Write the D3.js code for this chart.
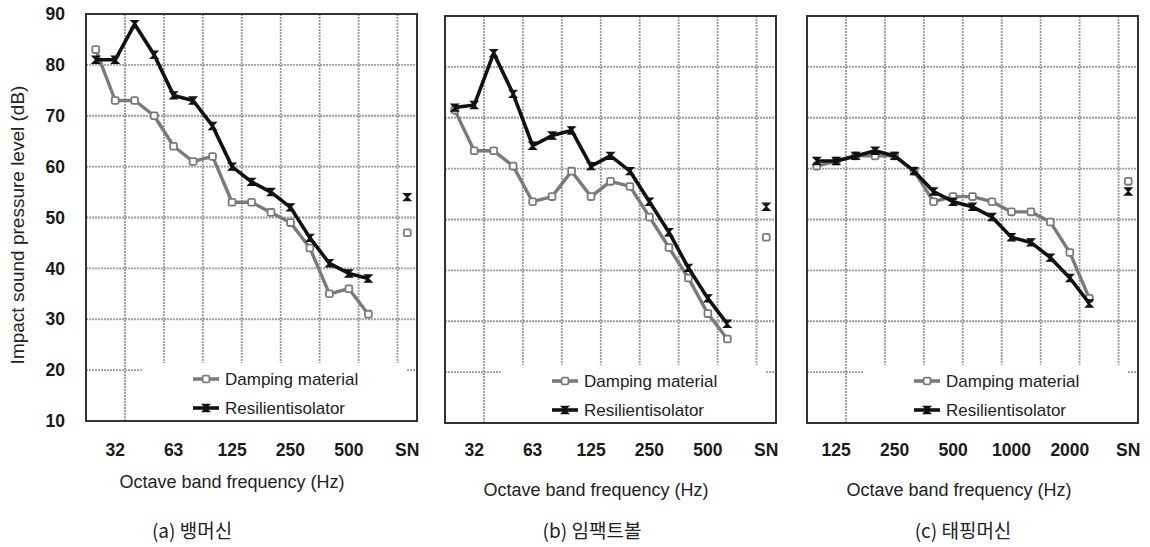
<!DOCTYPE html>
<html><head><meta charset="utf-8">
<script src="https://cdn.jsdelivr.net/npm/d3@7"></script>
<style>body{margin:0;background:#fff}svg{display:block}</style>
</head><body><svg id="c" width="1150" height="547"></svg>
<script>
// ---- data ----
const catsAB = ["25","31.5","40","50","63","80","100","125","160","200","250","315","400","500","630","gap","SN"];
const catsC  = ["100","125","160","200","250","315","400","500","630","800","1000","1250","1600","2000","2500","gap","SN"];
const tickCatsAB = ["31.5","63","125","250","500","SN"];
const tickLabelsAB = ["32","63","125","250","500","SN"];
const tickCatsC = ["125","250","500","1000","2000","SN"];
const tickLabelsC = ["125","250","500","1000","2000","SN"];
const yTicks = [10,20,30,40,50,60,70,80,90];
const seriesNames = ["Damping material","Resilientisolator"];
const dampA = [83,73,73,70,64,61,62,53,53,51,49,44,35,36,31,null,47];
const resA  = [81,81,88,82,74,73,68,60,57,55,52,46,41,39,38,null,54];
const dampB = [71.5,63.5,63.5,60.5,53.5,54.5,59.5,54.5,57.5,56.5,50.5,44.5,38.5,31.5,26.5,null,46.5];
const resB  = [72,72.5,82.7,74.7,64.5,66.5,67.5,60.5,62.5,59.5,53.5,47.5,40.5,34.5,29.5,null,52.5];
const dampC = [60.5,61.5,62.5,62.5,62.5,59.5,53.5,54.5,54.5,53.5,51.5,51.5,49.5,43.5,34.5,null,57.5];
const resC  = [61.5,61.5,62.5,63.5,62.5,59.5,55.5,53.5,52.5,50.5,46.5,45.5,42.5,38.5,33.5,null,55.5];
const xTitle = "Octave band frequency (Hz)";
const yTitle = "Impact sound pressure level (dB)";
const captions = ["(a) 뱅머신","(b) 임팩트볼","(c) 태핑머신"];

const panels = [
  {left:86, top:14, cats:catsAB, tc:tickCatsAB, tl:tickLabelsAB, d:dampA, r:resA, cap:captions[0], yt:true, titleY:488, capY:538, titleX:232, capX:192},
  {left:445, top:16, cats:catsAB, tc:tickCatsAB, tl:tickLabelsAB, d:dampB, r:resB, cap:captions[1], yt:false, titleY:496, capY:538, titleX:596, capX:592},
  {left:807, top:16, cats:catsC, tc:tickCatsC, tl:tickLabelsC, d:dampC, r:resC, cap:captions[2], yt:false, titleY:496, capY:538, titleX:959, capX:963}
];
const W = 331, H = 407;
const svg = d3.select("#c");
const grey = "#7a7a7a", black = "#111";
const sans = "'Liberation Sans', Arial, sans-serif";

function resMarker(g, x, y, s) {
  g.append("path").attr("d", `M${x-s},${y-s}L${x+s},${y-s}L${x-s},${y+s}L${x+s},${y+s}Z`)
    .attr("fill", black).attr("stroke", black).attr("stroke-width", 1.2).attr("stroke-linejoin","miter");
}
function dampMarker(g, x, y, s) {
  g.append("rect").attr("x", x-s).attr("y", y-s).attr("width", 2*s).attr("height", 2*s).attr("rx", 1.5)
    .attr("fill", "#fff").attr("stroke", grey).attr("stroke-width", 1.8);
}

panels.forEach(p => {
  const g = svg.append("g");
  const x = d3.scaleBand().domain(p.cats).range([p.left, p.left + W]).padding(0);
  const y = d3.scaleLinear().domain([10, 90]).range([p.top + H, p.top]);
  const cx = c => x(c) + x.bandwidth() / 2;
  // grid
  const grid = g.append("g").attr("stroke", "#9a9a9a").attr("stroke-width", 1.8).attr("stroke-dasharray", "2,1");
  p.cats.forEach((c, i) => {
    if (i % 2 === 1 && i < 16) {
      const gx = x(c) + x.bandwidth();
      grid.append("line").attr("x1", gx).attr("x2", gx).attr("y1", p.top).attr("y2", p.top + H);
    }
  });
  yTicks.slice(1, -1).forEach(v => {
    grid.append("line").attr("x1", p.left).attr("x2", p.left + W).attr("y1", y(v)).attr("y2", y(v));
  });
  // legend background
  g.append("rect").attr("x", p.left + 57).attr("y", p.top + 349).attr("width", 264).attr("height", H - 349).attr("fill", "#fff");
  // series lines
  const idx = d3.range(15);
  const mk = arr => d3.line().x(i => cx(p.cats[i])).y(i => y(arr[i]))(idx);
  g.append("path").attr("d", mk(p.d)).attr("fill", "none").attr("stroke", grey).attr("stroke-width", 3.4).attr("stroke-linejoin","round");
  idx.forEach(i => dampMarker(g, cx(p.cats[i]), y(p.d[i]), 3.4));
  g.append("path").attr("d", mk(p.r)).attr("fill", "none").attr("stroke", black).attr("stroke-width", 3.6).attr("stroke-linejoin","round");
  idx.forEach(i => resMarker(g, cx(p.cats[i]), y(p.r[i]), 3.6));
  // SN points
  dampMarker(g, cx("SN"), y(p.d[16]), 3.4);
  resMarker(g, cx("SN"), y(p.r[16]), 3.6);
  // frame
  g.append("rect").attr("x", p.left).attr("y", p.top).attr("width", W).attr("height", H)
    .attr("fill", "none").attr("stroke", "#333").attr("stroke-width", 2);
  // legend
  const lx = p.left + 107;
  [[seriesNames[0], p.top + 365, 0], [seriesNames[1], p.top + 394, 1]].forEach(([name, ly, k]) => {
    g.append("line").attr("x1", lx).attr("x2", lx + 26).attr("y1", ly).attr("y2", ly)
      .attr("stroke", k ? black : grey).attr("stroke-width", 3.6);
    if (k) resMarker(g, lx + 13, ly, 3.6); else dampMarker(g, lx + 13, ly, 3.4);
    g.append("text").attr("x", lx + 32).attr("y", ly).attr("dy", "0.35em")
      .attr("font-family", sans).attr("font-size", 17).attr("fill", "#222").text(name);
  });
  // x tick labels
  p.tc.forEach((c, i) => {
    g.append("text").attr("x", cx(c)).attr("y", 450).attr("dy", "0.35em").attr("text-anchor", "middle")
      .attr("font-family", sans).attr("font-weight", "bold").attr("font-size", 17.5).attr("fill", "#1a1a1a").text(p.tl[i]);
  });
  // y tick labels
  if (p.yt) {
    yTicks.forEach(v => {
      g.append("text").attr("x", 65).attr("y", y(v)).attr("dy", "0.35em").attr("text-anchor", "end")
        .attr("font-family", sans).attr("font-weight", "bold").attr("font-size", 17.5).attr("fill", "#1a1a1a").text(v);
    });
  }
  g.append("text").attr("x", p.titleX).attr("y", p.titleY).attr("text-anchor", "middle")
    .attr("font-family", sans).attr("font-size", 18).attr("fill", "#222").text(xTitle);
  g.append("text").attr("x", p.capX).attr("y", p.capY).attr("text-anchor", "middle")
    .attr("font-family", "'Noto Sans CJK KR', sans-serif").attr("font-size", 19).attr("fill", "#222").text(p.cap);
});
svg.append("text").attr("transform", "translate(24,225) rotate(-90)").attr("text-anchor", "middle")
  .attr("font-family", sans).attr("font-size", 19).attr("fill", "#222").text(yTitle);
</script></body></html>
